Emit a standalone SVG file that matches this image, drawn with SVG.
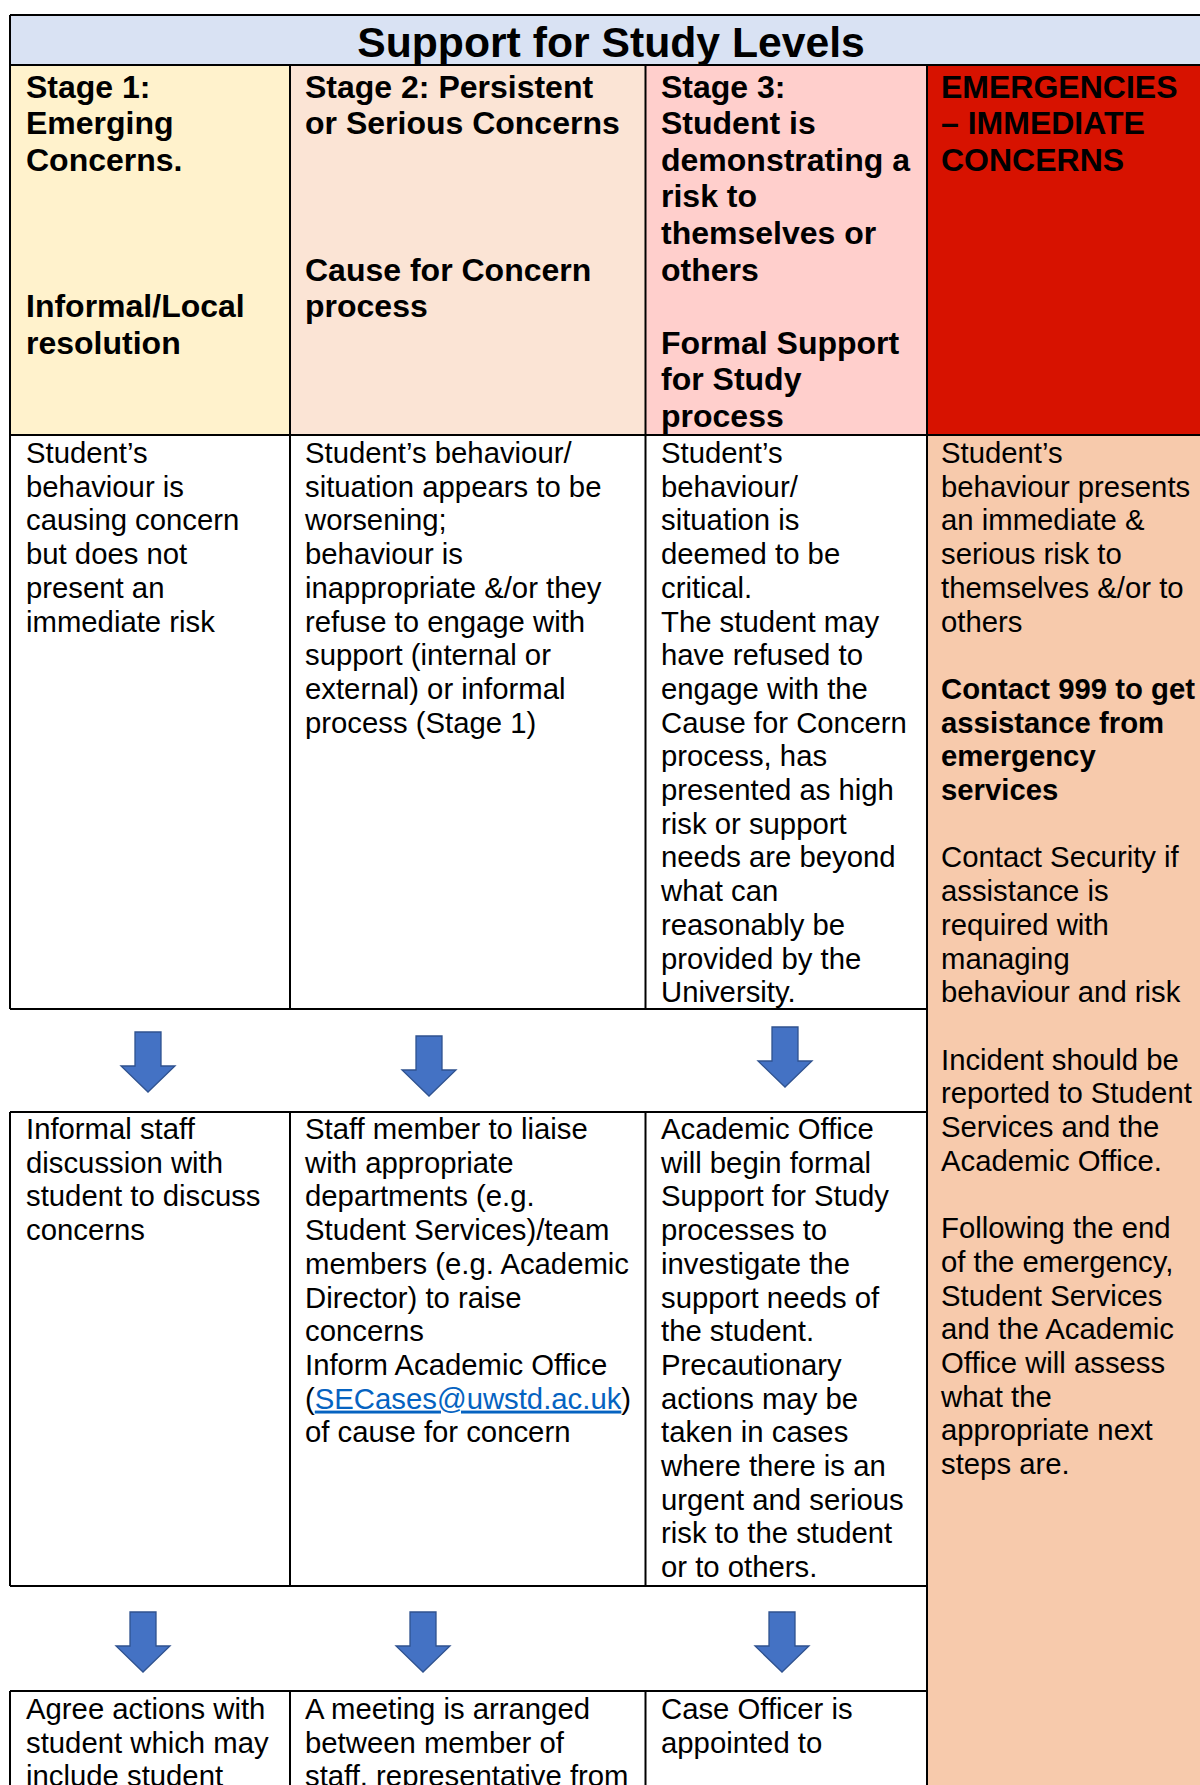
<svg xmlns="http://www.w3.org/2000/svg" width="1200" height="1785" viewBox="0 0 1200 1785">
  <defs>
    <style>
      .title { font-family: "Liberation Sans", Arial, sans-serif; font-weight: bold; font-size: 42.7px; fill: #000; }
      .hd { font-family: "Liberation Sans", Arial, sans-serif; font-weight: bold; font-size: 32px; fill: #000; }
      .tx { font-family: "Liberation Sans", Arial, sans-serif; font-size: 29.3px; fill: #000; }
      .tb { font-weight: bold; }
      .link { fill: #0563C1; text-decoration: underline; }
      .grid { fill: none; stroke: #000; stroke-width: 2; }
      .arrow { fill: #4472C4; stroke: #2F528F; stroke-width: 1.3; stroke-linejoin: miter; }
    </style>
    <!-- block down-arrow, origin at top centre of the shaft -->
    <path id="downArrow" d="M-13,0 H13 V34 H27 L0,60 L-27,34 H-13 Z"/>
  </defs>

  <rect width="1200" height="1785" fill="#fff"/>

  <!-- title band -->
  <g id="title">
    <rect x="10" y="15" width="1200" height="50" fill="#D9E2F3"/>
    <text class="title" x="611" y="57" text-anchor="middle">Support for Study Levels</text>
  </g>

  <!-- stage headers -->
  <g id="stage1-header">
    <rect x="10" y="65" width="280" height="370" fill="#FFF2CC"/>
    <text class="hd">
      <tspan x="26" y="97.5">Stage 1:</tspan>
      <tspan x="26" y="134.1">Emerging</tspan>
      <tspan x="26" y="170.7">Concerns.</tspan>
      <tspan x="26" y="317.1">Informal/Local</tspan>
      <tspan x="26" y="353.7">resolution</tspan>
    </text>
  </g>
  <g id="stage2-header">
    <rect x="290" y="65" width="355.5" height="370" fill="#FBE4D5"/>
    <text class="hd">
      <tspan x="305" y="97.5">Stage 2: Persistent</tspan>
      <tspan x="305" y="134.1">or Serious Concerns</tspan>
      <tspan x="305" y="280.5">Cause for Concern</tspan>
      <tspan x="305" y="317.1">process</tspan>
    </text>
  </g>
  <g id="stage3-header">
    <rect x="645.5" y="65" width="281.5" height="370" fill="#FFCFCC"/>
    <text class="hd">
      <tspan x="661" y="97.5">Stage 3:</tspan>
      <tspan x="661" y="134.1">Student is</tspan>
      <tspan x="661" y="170.7">demonstrating a</tspan>
      <tspan x="661" y="207.3">risk to</tspan>
      <tspan x="661" y="243.9">themselves or</tspan>
      <tspan x="661" y="280.5">others</tspan>
      <tspan x="661" y="353.7">Formal Support</tspan>
      <tspan x="661" y="390.3">for Study</tspan>
      <tspan x="661" y="426.9">process</tspan>
    </text>
  </g>
  <g id="emergency-header">
    <rect x="927" y="65" width="283" height="370" fill="#D71200"/>
    <text class="hd">
      <tspan x="941" y="97.5">EMERGENCIES</tspan>
      <tspan x="941" y="134.1">– IMMEDIATE</tspan>
      <tspan x="941" y="170.7">CONCERNS</tspan>
    </text>
  </g>

  <!-- situation descriptions -->
  <g id="stage1-situation">
    <text class="tx">
      <tspan x="26" y="463">Student’s</tspan>
      <tspan x="26" y="496.7">behaviour is</tspan>
      <tspan x="26" y="530.4">causing concern</tspan>
      <tspan x="26" y="564.1">but does not</tspan>
      <tspan x="26" y="597.8">present an</tspan>
      <tspan x="26" y="631.5">immediate risk</tspan>
    </text>
  </g>
  <g id="stage2-situation">
    <text class="tx">
      <tspan x="305" y="463">Student’s behaviour/</tspan>
      <tspan x="305" y="496.7">situation appears to be</tspan>
      <tspan x="305" y="530.4">worsening;</tspan>
      <tspan x="305" y="564.1">behaviour is</tspan>
      <tspan x="305" y="597.8">inappropriate &amp;/or they</tspan>
      <tspan x="305" y="631.5">refuse to engage with</tspan>
      <tspan x="305" y="665.2">support (internal or</tspan>
      <tspan x="305" y="698.9">external) or informal</tspan>
      <tspan x="305" y="732.6">process (Stage 1)</tspan>
    </text>
  </g>
  <g id="stage3-situation">
    <text class="tx">
      <tspan x="661" y="463">Student’s</tspan>
      <tspan x="661" y="496.7">behaviour/</tspan>
      <tspan x="661" y="530.4">situation is</tspan>
      <tspan x="661" y="564.1">deemed to be</tspan>
      <tspan x="661" y="597.8">critical.</tspan>
      <tspan x="661" y="631.5">The student may</tspan>
      <tspan x="661" y="665.2">have refused to</tspan>
      <tspan x="661" y="698.9">engage with the</tspan>
      <tspan x="661" y="732.6">Cause for Concern</tspan>
      <tspan x="661" y="766.3">process, has</tspan>
      <tspan x="661" y="800">presented as high</tspan>
      <tspan x="661" y="833.7">risk or support</tspan>
      <tspan x="661" y="867.4">needs are beyond</tspan>
      <tspan x="661" y="901.1">what can</tspan>
      <tspan x="661" y="934.8">reasonably be</tspan>
      <tspan x="661" y="968.5">provided by the</tspan>
      <tspan x="661" y="1002.2">University.</tspan>
    </text>
  </g>
  <g id="emergency-actions">
    <rect x="927" y="435" width="283" height="1350" fill="#F7CAAC"/>
    <text class="tx">
      <tspan x="941" y="463">Student’s</tspan>
      <tspan x="941" y="496.7">behaviour presents</tspan>
      <tspan x="941" y="530.4">an immediate &amp;</tspan>
      <tspan x="941" y="564.1">serious risk to</tspan>
      <tspan x="941" y="597.8">themselves &amp;/or to</tspan>
      <tspan x="941" y="631.5">others</tspan>
      <tspan x="941" y="698.9" class="tb">Contact 999 to get</tspan>
      <tspan x="941" y="732.6" class="tb">assistance from</tspan>
      <tspan x="941" y="766.3" class="tb">emergency</tspan>
      <tspan x="941" y="800" class="tb">services</tspan>
      <tspan x="941" y="867.4">Contact Security if</tspan>
      <tspan x="941" y="901.1">assistance is</tspan>
      <tspan x="941" y="934.8">required with</tspan>
      <tspan x="941" y="968.5">managing</tspan>
      <tspan x="941" y="1002.2">behaviour and risk</tspan>
      <tspan x="941" y="1069.6">Incident should be</tspan>
      <tspan x="941" y="1103.3">reported to Student</tspan>
      <tspan x="941" y="1137">Services and the</tspan>
      <tspan x="941" y="1170.7">Academic Office.</tspan>
      <tspan x="941" y="1238.1">Following the end</tspan>
      <tspan x="941" y="1271.8">of the emergency,</tspan>
      <tspan x="941" y="1305.5">Student Services</tspan>
      <tspan x="941" y="1339.2">and the Academic</tspan>
      <tspan x="941" y="1372.9">Office will assess</tspan>
      <tspan x="941" y="1406.6">what the</tspan>
      <tspan x="941" y="1440.3">appropriate next</tspan>
      <tspan x="941" y="1474">steps are.</tspan>
    </text>
  </g>

  <!-- first actions -->
  <g id="stage1-action">
    <text class="tx">
      <tspan x="26" y="1139">Informal staff</tspan>
      <tspan x="26" y="1172.7">discussion with</tspan>
      <tspan x="26" y="1206.4">student to discuss</tspan>
      <tspan x="26" y="1240.1">concerns</tspan>
    </text>
  </g>
  <g id="stage2-action">
    <text class="tx">
      <tspan x="305" y="1139">Staff member to liaise</tspan>
      <tspan x="305" y="1172.7">with appropriate</tspan>
      <tspan x="305" y="1206.4">departments (e.g.</tspan>
      <tspan x="305" y="1240.1">Student Services)/team</tspan>
      <tspan x="305" y="1273.8">members (e.g. Academic</tspan>
      <tspan x="305" y="1307.5">Director) to raise</tspan>
      <tspan x="305" y="1341.2">concerns</tspan>
      <tspan x="305" y="1374.9">Inform Academic Office</tspan>
      <tspan x="305" y="1408.6">(<tspan class="link">SECases@uwstd.ac.uk</tspan>)</tspan>
      <tspan x="305" y="1442.3">of cause for concern</tspan>
    </text>
  </g>
  <g id="stage3-action">
    <text class="tx">
      <tspan x="661" y="1139">Academic Office</tspan>
      <tspan x="661" y="1172.7">will begin formal</tspan>
      <tspan x="661" y="1206.4">Support for Study</tspan>
      <tspan x="661" y="1240.1">processes to</tspan>
      <tspan x="661" y="1273.8">investigate the</tspan>
      <tspan x="661" y="1307.5">support needs of</tspan>
      <tspan x="661" y="1341.2">the student.</tspan>
      <tspan x="661" y="1374.9">Precautionary</tspan>
      <tspan x="661" y="1408.6">actions may be</tspan>
      <tspan x="661" y="1442.3">taken in cases</tspan>
      <tspan x="661" y="1476">where there is an</tspan>
      <tspan x="661" y="1509.7">urgent and serious</tspan>
      <tspan x="661" y="1543.4">risk to the student</tspan>
      <tspan x="661" y="1577.1">or to others.</tspan>
    </text>
  </g>

  <!-- follow-up actions -->
  <g id="stage1-followup">
    <text class="tx">
      <tspan x="26" y="1719">Agree actions with</tspan>
      <tspan x="26" y="1752.7">student which may</tspan>
      <tspan x="26" y="1786.4">include student</tspan>
    </text>
  </g>
  <g id="stage2-followup">
    <text class="tx">
      <tspan x="305" y="1719">A meeting is arranged</tspan>
      <tspan x="305" y="1752.7">between member of</tspan>
      <tspan x="305" y="1786.4">staff, representative from</tspan>
    </text>
  </g>
  <g id="stage3-followup">
    <text class="tx">
      <tspan x="661" y="1719">Case Officer is</tspan>
      <tspan x="661" y="1752.7">appointed to</tspan>
    </text>
  </g>

  <!-- table rules -->
  <g id="grid" class="grid">
    <path d="M10,15 H1210 M10,65 H1210 M10,435 H1210 M10,1009 H927 M10,1112 H927 M10,1586 H927 M10,1691 H927"/>
    <path d="M10,15 V1009 M10,1112 V1586 M10,1691 V1785"/>
    <path d="M290,65 V1009 M290,1112 V1586 M290,1691 V1785"/>
    <path d="M645.5,65 V1009 M645.5,1112 V1586 M645.5,1691 V1785"/>
    <path d="M927,65 V1785"/>
  </g>

  <!-- flow arrows between steps -->
  <g id="connectors">
    <use href="#downArrow" class="arrow" x="148" y="1032"/>
    <use href="#downArrow" class="arrow" x="429" y="1036"/>
    <use href="#downArrow" class="arrow" x="785" y="1027"/>
    <use href="#downArrow" class="arrow" x="143" y="1612"/>
    <use href="#downArrow" class="arrow" x="423" y="1612"/>
    <use href="#downArrow" class="arrow" x="782" y="1612"/>
  </g>
</svg>
